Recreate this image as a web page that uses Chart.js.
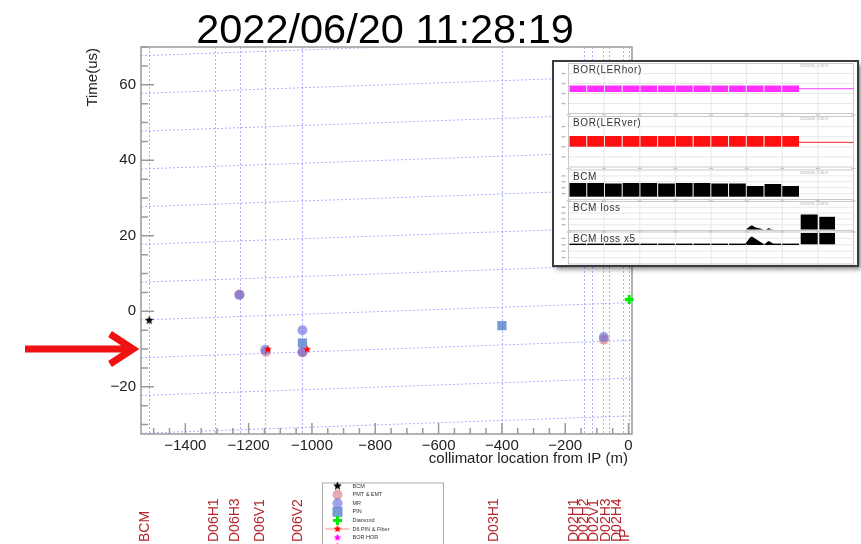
<!DOCTYPE html>
<html>
<head>
<meta charset="utf-8">
<script src="https://cdn.jsdelivr.net/npm/chart.js@4.4.1/dist/chart.umd.min.js"></script>
<style>
  html, body { margin: 0; padding: 0; background: #fff; }
  #chart { display: block; }
</style>
</head>
<body>
<canvas id="chart" width="861" height="544"></canvas>
<script>
const FONT = '"Liberation Sans", Arial, Helvetica, sans-serif';

const titleText = '2022/06/20 11:28:19';
const xTitle = 'collimator location from IP (m)';
const yTitle = 'Time(us)';

// collimators: where the dashed lines go and where the red names sit
const collimators = ['BCM', 'D06H1', 'D06H3', 'D06V1', 'D06V2', 'D03H1', 'D02H1', 'D02H2', 'D02V1', 'D02H3', 'D02H4', 'IP'];
const collimatorPos = [-1515, -1305, -1228, -1148, -1030, -400, -141, -116, -80, -62, -17, 0];
const labelPos = [-1514, -1298, -1231, -1152, -1030, -411, -158, -127, -95, -60, -25, 2];

const xTicks = [-1400, -1200, -1000, -800, -600, -400, -200, 0];
const yTicks = [-20, 0, 20, 40, 60];

// measured points
const bcmPoints = [{ x: -1514, y: -2.4 }];
const pmtPoints = [{ x: -1229, y: 4.4 }, { x: -1145, y: -10.7 }, { x: -1030, y: -10.9 }, { x: -78, y: -7.5 }];
const mrPoints = [{ x: -1229, y: 4.4 }, { x: -1148, y: -10.2 }, { x: -1030, y: -5.0 }, { x: -1030, y: -10.8 }, { x: -78, y: -6.8 }];
const pinPoints = [{ x: -1030, y: -8.4 }, { x: -400, y: -3.8 }];
const diamondPoints = [{ x: 2, y: 3.1 }];
const d6Points = [{ x: -1139, y: -10.1 }, { x: -1015, y: -10.1 }];
const borHorPoints = [];
const borVerPoints = [];

const legendNames = ['BCM', 'PMT & EMT', 'MR', 'PIN', 'Diamond', 'D6 PIN & Fiber', 'BOR HOR', 'BOR VER'];

const xMin = -1540, xMax = 11;
const yMin = -32.5, yMax = 70;

const gridColor = 'rgba(140,145,255,0.75)';
const labelColor = '#b3262b';

function makeStar(color, size) {
  const c = document.createElement('canvas');
  c.width = c.height = size;
  const g = c.getContext('2d');
  const R = size / 2, r = R * 0.45;
  g.beginPath();
  for (let i = 0; i < 10; i++) {
    const a = -Math.PI / 2 + i * Math.PI / 5;
    const rr = i % 2 ? r : R;
    g.lineTo(R + rr * Math.cos(a), R + rr * Math.sin(a));
  }
  g.closePath();
  g.fillStyle = color;
  g.fill();
  return c;
}

const blackStar = makeStar('#000', 9);
const redStar = makeStar('#ff0000', 8);
const magentaStar = makeStar('#ff00ff', 8);
const pinkStar = makeStar('#ff4070', 8);

const pmtColor = 'rgba(205,100,105,0.55)';
const mrColor = 'rgba(100,100,222,0.6)';
const pinColor = 'rgba(95,135,205,0.85)';

// legend marker description, same order as legendNames
const legendMarkers = [
  { img: blackStar },
  { shape: 'circle', r: 5, color: pmtColor },
  { shape: 'circle', r: 5, color: mrColor },
  { shape: 'rect', r: 5, color: pinColor },
  { shape: 'cross', r: 4.5, color: '#00ee00' },
  { shape: 'errstar', img: redStar },
  { img: magentaStar },
  { img: pinkStar }
];

function drawLegend(ctx) {
  const L = 322, T = 482.5, W = 121, y0 = 486, dy = 8.6, mx = 337.5, tx = 352.5;
  ctx.save();
  ctx.fillStyle = '#fff';
  ctx.fillRect(L, T, W, 80);
  ctx.strokeStyle = '#aaa';
  ctx.lineWidth = 1;
  ctx.strokeRect(L + 0.5, T + 0.5, W, 80);
  legendNames.forEach((name, i) => {
    const m = legendMarkers[i];
    const y = y0 + i * dy;
    if (m.shape === 'errstar') {
      ctx.strokeStyle = '#ffb0b0';
      ctx.lineWidth = 1.5;
      ctx.beginPath(); ctx.moveTo(mx - 12, y); ctx.lineTo(mx + 12, y); ctx.stroke();
    }
    if (m.img) {
      ctx.drawImage(m.img, mx - m.img.width / 2, y - m.img.height / 2);
    } else if (m.shape === 'circle') {
      ctx.fillStyle = m.color;
      ctx.beginPath(); ctx.arc(mx, y, m.r, 0, Math.PI * 2); ctx.fill();
    } else if (m.shape === 'rect') {
      ctx.fillStyle = m.color;
      ctx.fillRect(mx - m.r, y - m.r, 2 * m.r, 2 * m.r);
    } else if (m.shape === 'cross') {
      ctx.strokeStyle = m.color;
      ctx.lineWidth = 3;
      ctx.beginPath();
      ctx.moveTo(mx - m.r, y); ctx.lineTo(mx + m.r, y);
      ctx.moveTo(mx, y - m.r); ctx.lineTo(mx, y + m.r);
      ctx.stroke();
    }
    ctx.fillStyle = '#333';
    ctx.font = '5.5px ' + FONT;
    ctx.textAlign = 'left';
    ctx.textBaseline = 'middle';
    ctx.fillText(name, tx, y);
  });
  ctx.restore();
}

// the pasted strip-chart picture in the top right corner
const insetPanels = [
  { title: 'BOR(LERhor)', top: 63.5, bottom: 113.5 },
  { title: 'BOR(LERver)', top: 116.5, bottom: 167 },
  { title: 'BCM', top: 170, bottom: 199.5 },
  { title: 'BCM loss', top: 201.5, bottom: 230.5 },
  { title: 'BCM loss x5', top: 232, bottom: 264 }
];
const bcmBlockTops = [183, 183, 183.5, 183, 183, 183.5, 183, 183, 183.5, 183.5, 186, 184, 186];

function drawInset(ctx) {
  const L = 553, T = 61, R = 858, B = 266;
  const pL = 568.5, pR = 853.5, bandEnd = 799;
  ctx.save();
  ctx.shadowColor = 'rgba(0,0,0,0.5)';
  ctx.shadowBlur = 5;
  ctx.shadowOffsetX = 3;
  ctx.shadowOffsetY = 3;
  ctx.fillStyle = '#fff';
  ctx.fillRect(L, T, R - L, B - T);
  ctx.restore();

  ctx.save();
  insetPanels.forEach((p, k) => {
    ctx.strokeStyle = '#e2e2e2';
    ctx.lineWidth = 0.8;
    for (let i = 1; i < 8; i++) {
      const gx = pL + i * (pR - pL) / 8;
      ctx.beginPath(); ctx.moveTo(gx, p.top); ctx.lineTo(gx, p.bottom); ctx.stroke();
    }
    for (let i = 1; i < 5; i++) {
      const gy = p.top + i * (p.bottom - p.top) / 5;
      ctx.beginPath(); ctx.moveTo(pL, gy); ctx.lineTo(pR, gy); ctx.stroke();
      ctx.fillStyle = '#bbb';
      ctx.fillRect(pL - 7, gy - 0.7, 4, 1.4);
    }
    for (let i = 0; i <= 8; i++) {
      ctx.fillStyle = '#c4c4c4';
      ctx.fillRect(pL + i * (pR - pL) / 8 - 2, p.bottom + 0.8, 4, 1.2);
    }
    ctx.strokeStyle = '#bdbdbd';
    ctx.strokeRect(pL, p.top, pR - pL, p.bottom - p.top);
    if (k < 4) {
      ctx.fillStyle = '#aaa';
      ctx.font = '3px ' + FONT;
      ctx.textAlign = 'left';
      ctx.textBaseline = 'middle';
      ctx.fillText('2022/06/20_11:28:19', 800, p.top + 3);
    }
  });

  const nb = bcmBlockTops.length;
  const bw = (bandEnd - pL) / nb;
  for (let i = 0; i < nb; i++) {
    const bx = pL + 1 + i * bw;
    ctx.fillStyle = '#ff30ff';
    ctx.fillRect(bx, 85.5, bw - 1, 6.5);
    ctx.fillStyle = '#ff1010';
    ctx.fillRect(bx, 136, bw - 1, 10.7);
    ctx.fillStyle = '#000';
    ctx.fillRect(bx, bcmBlockTops[i], bw - 1, 196.7 - bcmBlockTops[i]);
    ctx.fillRect(bx, 243.6, bw - 1, 1.4);
  }
  ctx.fillStyle = '#ff40ff';
  ctx.fillRect(bandEnd, 88.2, pR - bandEnd, 1);
  ctx.fillStyle = '#ff2020';
  ctx.fillRect(bandEnd, 141.8, pR - bandEnd, 1);

  ctx.fillStyle = '#000';
  ctx.fillRect(800.7, 214.5, 17, 15);
  ctx.fillRect(819.3, 216.8, 15.7, 12.7);
  ctx.fillRect(800.7, 233, 17, 11.3);
  ctx.fillRect(819.3, 233, 15.7, 11.3);
  [[746, 752, 764, 229.5, 225.3], [766, 769, 773, 229.5, 228], [745, 752, 764, 244.3, 236.5], [765, 769, 774, 244.3, 241]].forEach(b => {
    ctx.beginPath();
    ctx.moveTo(b[0], b[3]);
    ctx.lineTo(b[1] - 2, b[4] + 1);
    ctx.lineTo(b[1], b[4]);
    ctx.lineTo(b[1] + 3, b[4] + 2);
    ctx.lineTo(b[2], b[3]);
    ctx.closePath();
    ctx.fill();
  });

  ctx.fillStyle = '#333';
  ctx.font = '10px ' + FONT;
  ctx.textAlign = 'left';
  ctx.textBaseline = 'alphabetic';
  if ('letterSpacing' in ctx) ctx.letterSpacing = '0.6px';
  insetPanels.forEach(p => ctx.fillText(p.title, 573, p.top + 9.5));
  ctx.restore();

  ctx.save();
  ctx.strokeStyle = '#3a3a3a';
  ctx.lineWidth = 2;
  ctx.strokeRect(L, T, R - L, B - T);
  ctx.restore();
}

const rootStyle = {
  id: 'rootStyle',
  beforeDatasetsDraw(chart) {
    const { ctx, chartArea: a, scales: { x, y } } = chart;
    ctx.save();
    ctx.beginPath();
    ctx.rect(a.left, a.top, a.right - a.left, a.bottom - a.top);
    ctx.clip();
    ctx.strokeStyle = gridColor;
    ctx.lineWidth = 1;
    ctx.setLineDash([2, 2]);
    collimatorPos.forEach(v => {
      const px = Math.round(x.getPixelForValue(v)) + 0.5;
      ctx.beginPath(); ctx.moveTo(px, a.top); ctx.lineTo(px, a.bottom); ctx.stroke();
    });
    // the horizontal grid of the original is slightly tilted
    const tilt = 4.6 / (xMax - xMin), pivot = -765;
    for (let v = -50; v <= 90; v += 10) {
      ctx.beginPath();
      ctx.moveTo(a.left, y.getPixelForValue(v + tilt * (xMin - pivot)));
      ctx.lineTo(a.right, y.getPixelForValue(v + tilt * (xMax - pivot)));
      ctx.stroke();
    }
    ctx.restore();

    ctx.save();
    ctx.strokeStyle = '#9a9a9a';
    ctx.lineWidth = 1.5;
    ctx.strokeRect(a.left, a.top, a.right - a.left, a.bottom - a.top);
    ctx.beginPath();
    for (let v = -1500; v <= xMax; v += 50) {
      const px = x.getPixelForValue(v);
      const len = v % 200 === 0 ? 11 : 6;
      ctx.moveTo(px, a.bottom); ctx.lineTo(px, a.bottom - len);
    }
    for (let v = -30; v <= yMax; v += 5) {
      const py = y.getPixelForValue(v);
      const len = v % 20 === 0 ? 13 : 7;
      ctx.moveTo(a.left, py); ctx.lineTo(a.left + len, py);
    }
    ctx.stroke();
    ctx.restore();
  },
  afterDraw(chart) {
    const { ctx, chartArea: a, scales: { x, y } } = chart;
    ctx.save();
    ctx.fillStyle = '#000';
    ctx.font = '41.5px ' + FONT;
    ctx.textAlign = 'center';
    ctx.textBaseline = 'alphabetic';
    ctx.fillText(titleText, 385, 43);

    ctx.fillStyle = '#222';
    ctx.font = '15px ' + FONT;
    ctx.textAlign = 'right';
    ctx.textBaseline = 'middle';
    ctx.fillText(xTitle, 628, 459);
    ctx.save();
    ctx.translate(93, a.top + 1);
    ctx.rotate(-Math.PI / 2);
    ctx.fillText(yTitle, 0, 0);
    ctx.restore();

    ctx.fillStyle = labelColor;
    ctx.font = '14px ' + FONT;
    ctx.textAlign = 'left';
    ctx.textBaseline = 'alphabetic';
    collimators.forEach((name, i) => {
      ctx.save();
      ctx.translate(x.getPixelForValue(labelPos[i]), 542);
      ctx.rotate(-Math.PI / 2);
      ctx.fillText(name, 0, 0);
      ctx.restore();
    });

    // red arrow pointing at -10 us
    const ya = y.getPixelForValue(-10);
    ctx.strokeStyle = '#f01212';
    ctx.lineWidth = 7;
    ctx.lineJoin = 'miter';
    ctx.beginPath();
    ctx.moveTo(25, ya); ctx.lineTo(128, ya);
    ctx.moveTo(110, ya - 15); ctx.lineTo(133, ya); ctx.lineTo(110, ya + 15);
    ctx.stroke();
    ctx.restore();

    drawLegend(ctx);
    drawInset(ctx);
  }
};

const minus = v => (v < 0 ? '\u2212' + Math.abs(v) : String(v));

new Chart(document.getElementById('chart'), {
  type: 'scatter',
  data: {
    datasets: [
      { label: legendNames[0], data: bcmPoints, pointStyle: blackStar, order: 1 },
      { label: legendNames[1], data: pmtPoints, pointStyle: 'circle', pointRadius: 5, backgroundColor: pmtColor, borderWidth: 0, order: 4 },
      { label: legendNames[2], data: mrPoints, pointStyle: 'circle', pointRadius: 5, backgroundColor: mrColor, borderWidth: 0, order: 3 },
      { label: legendNames[3], data: pinPoints, pointStyle: 'rect', pointRadius: 6.5, backgroundColor: pinColor, borderWidth: 0, order: 2 },
      { label: legendNames[4], data: diamondPoints, pointStyle: 'cross', pointRadius: 4.5, borderColor: '#00ee00', borderWidth: 3, order: 1 },
      { label: legendNames[5], data: d6Points, pointStyle: redStar, order: 0 },
      { label: legendNames[6], data: borHorPoints, pointStyle: magentaStar, order: 0 },
      { label: legendNames[7], data: borVerPoints, pointStyle: pinkStar, order: 0 }
    ].map(d => Object.assign({ showLine: false, clip: false }, d))
  },
  options: {
    responsive: false,
    animation: false,
    events: [],
    layout: { padding: { left: 0, top: 47, right: 229, bottom: 0 } },
    plugins: { legend: { display: false }, tooltip: { enabled: false }, title: { display: false } },
    scales: {
      x: {
        type: 'linear',
        min: xMin,
        max: xMax,
        grid: { display: false, drawTicks: false },
        border: { display: false },
        afterBuildTicks: s => { s.ticks = xTicks.map(v => ({ value: v })); },
        afterFit: s => { s.height = 110; },
        ticks: { autoSkip: false, maxRotation: 0, padding: 3, color: '#222', font: { family: FONT, size: 15 }, callback: minus }
      },
      y: {
        type: 'linear',
        min: yMin,
        max: yMax,
        grid: { display: false, drawTicks: false },
        border: { display: false },
        afterBuildTicks: s => { s.ticks = yTicks.map(v => ({ value: v })); },
        afterFit: s => { s.width = 141; },
        ticks: { autoSkip: false, padding: 5, color: '#222', font: { family: FONT, size: 15 }, callback: minus }
      }
    }
  },
  plugins: [rootStyle]
});
</script>
</body>
</html>
